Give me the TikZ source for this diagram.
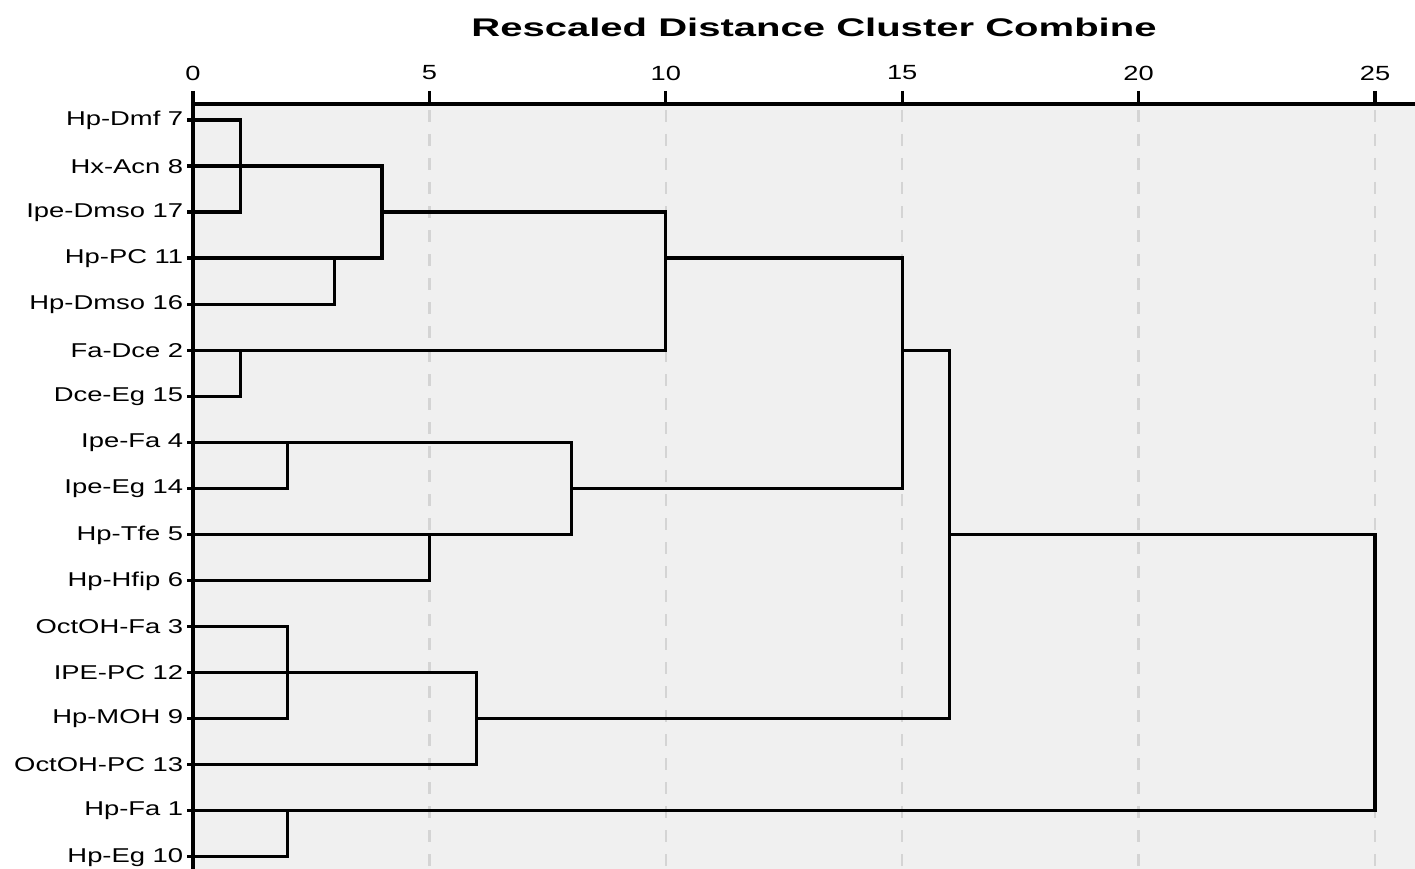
\documentclass[tikz,border=0pt]{standalone}
\usepackage{fontspec}
\setmainfont{Liberation Sans}
\newcommand\dX[1]{193+47.28*#1}
\newcommand\rY[1]{120+46.04*#1}
\begin{document}
\begin{tikzpicture}[x=1pt,y=-1pt,
  dend/.style={line width=3.3pt,black,line join=miter,line cap=rect},
  axisline/.style={line width=3.3pt,black},
  grid/.style={line width=2.4pt,color=black!17,dash pattern=on 12pt off 12pt,dash phase=0pt},
  rowlabel/.style={anchor=east,inner sep=0pt,font=\fontsize{20}{22}\selectfont,xscale=1.37},
  ticklabel/.style={anchor=center,inner sep=0pt,font=\fontsize{20.5}{22}\selectfont,xscale=1.33},
  titlelabel/.style={anchor=center,inner sep=0pt,font=\fontsize{25.5}{28}\selectfont\bfseries,xscale=1.57}]
\useasboundingbox (0,0) rectangle (1415,869);
\fill[white] (0,0) rectangle (1415,869);
\fill[black!6] (193,104) rectangle (1415,869);
% grid
\foreach \d in {5,10,15,20,25}{
  \draw[grid] ({\dX{\d}},110) -- ({\dX{\d}},869);
}
% axes
\draw[axisline] (193,104) -- (1415,104);
\draw[axisline] (193,102.4) -- (193,869);
\foreach \d in {0,5,10,15,20,25}{
  \draw[axisline] ({\dX{\d}},91) -- ({\dX{\d}},104);
  \node[ticklabel] (t\d) at ({\dX{\d}},73) {\d};
}
\node[titlelabel] (title) at (814,27) {Rescaled Distance Cluster Combine};
% row labels
\foreach \lab [count=\i from 0] in {Hp-Dmf 7,Hx-Acn 8,Ipe-Dmso 17,Hp-PC 11,Hp-Dmso 16,Fa-Dce 2,Dce-Eg 15,Ipe-Fa 4,Ipe-Eg 14,Hp-Tfe 5,Hp-Hfip 6,OctOH-Fa 3,IPE-PC 12,Hp-MOH 9,OctOH-PC 13,Hp-Fa 1,Hp-Eg 10}{
  \node[rowlabel] (r\i) at (183.5,{\rY{\i}+0.5}) {\lab};
  \draw[axisline] (187,{\rY{\i}}) -- (193,{\rY{\i}});
}
% dendrogram
\draw[dend] (193,{\rY{0}}) -| ({\dX{1}},{\rY{2}}) -- (193,{\rY{2}});
\draw[dend] (193,{\rY{1}}) -- ({\dX{4}},{\rY{1}});
\draw[dend] (193,{\rY{4}}) -| ({\dX{3}},{\rY{3}});
\draw[dend] (193,{\rY{3}}) -| ({\dX{4}},{\rY{1}});
\draw[dend] ({\dX{4}},{\rY{2}}) -- ({\dX{10}},{\rY{2}});
\draw[dend] (193,{\rY{6}}) -| ({\dX{1}},{\rY{5}});
\draw[dend] (193,{\rY{5}}) -| ({\dX{10}},{\rY{2}});
\draw[dend] ({\dX{10}},{\rY{3}}) -- ({\dX{15}},{\rY{3}});
\draw[dend] (193,{\rY{8}}) -| ({\dX{2}},{\rY{7}});
\draw[dend] (193,{\rY{10}}) -| ({\dX{5}},{\rY{9}});
\draw[dend] (193,{\rY{7}}) -| ({\dX{8}},{\rY{9}}) -- (193,{\rY{9}});
\draw[dend] ({\dX{8}},{\rY{8}}) -| ({\dX{15}},{\rY{3}});
\draw[dend] ({\dX{15}},{\rY{5}}) -- ({\dX{16}},{\rY{5}});
\draw[dend] (193,{\rY{11}}) -| ({\dX{2}},{\rY{13}}) -- (193,{\rY{13}});
\draw[dend] (193,{\rY{12}}) -| ({\dX{6}},{\rY{14}}) -- (193,{\rY{14}});
\draw[dend] ({\dX{6}},{\rY{13}}) -| ({\dX{16}},{\rY{5}});
\draw[dend] (193,{\rY{16}}) -| ({\dX{2}},{\rY{15}});
\draw[dend] ({\dX{16}},{\rY{9}}) -| ({\dX{25}},{\rY{15}}) -- (193,{\rY{15}});
\end{tikzpicture}
\end{document}
